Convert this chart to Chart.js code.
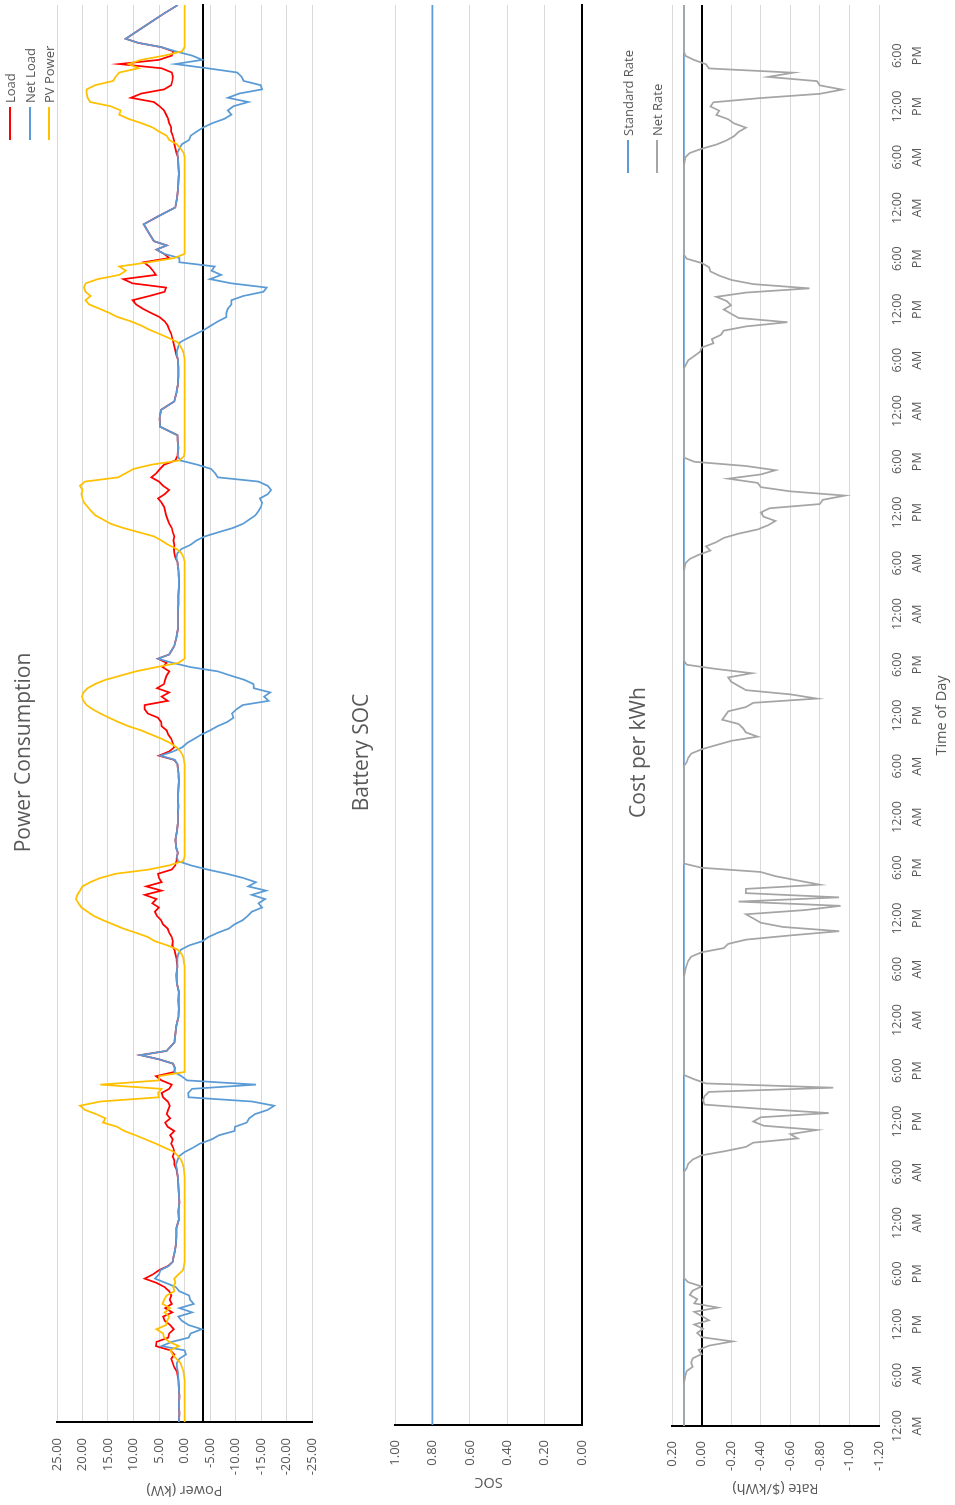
<!DOCTYPE html>
<html>
<head>
<meta charset="utf-8">
<script src="https://cdn.jsdelivr.net/npm/chart.js@4.4.1/dist/chart.umd.min.js"></script>
<style>
  body { margin: 0; background: #fff; }
  #frame {
    position: absolute; left: 0; top: 1505px; width: 1505px; height: 955px;
    transform-origin: 0 0; transform: rotate(-90deg);
    font-family: 'Open Sans', 'Noto Sans', sans-serif; color: #595959;
  }
  #frame canvas { position: absolute; left: 0; }
  .title { position: absolute; left: 0; width: 1505px; text-align: center; font-size: 21px; line-height: 26px; transform: translateY(-50%); }
  .lg { position: absolute; display: flex; align-items: center; font-size: 13px; line-height: 16px; transform: translateY(-50%); white-space: nowrap; }
  .lg i { display: inline-block; width: 33px; border-top: 2px solid; margin-right: 4px; }
</style>
</head>
<body>
<div id="frame">
  <canvas id="powerChart" width="1505" height="330" style="top:0"></canvas>
  <canvas id="socChart" width="1505" height="260" style="top:340px"></canvas>
  <canvas id="costChart" width="1505" height="345" style="top:610px"></canvas>

  <div class="title" style="top:22px">Power Consumption</div>
  <div class="lg" style="left:1365px;top:10px"><i style="border-color:#FF0000"></i>Load</div>
  <div class="lg" style="left:1365px;top:30px"><i style="border-color:#5B9BD5"></i>Net Load</div>
  <div class="lg" style="left:1365px;top:49px"><i style="border-color:#FFC000"></i>PV Power</div>

  <div class="title" style="top:360px">Battery SOC</div>

  <div class="title" style="top:637px">Cost per kWh</div>
  <div class="lg" style="left:1332px;top:628px"><i style="border-color:#5B9BD5"></i>Standard Rate</div>
  <div class="lg" style="left:1332px;top:657px"><i style="border-color:#A5A5A5"></i>Net Rate</div>
</div>

<script>
// sample hours within each day (finer during daylight), 7 days + closing point
const dayHours = [0, 1, 2, 3, 4, 5, 6, 6.5, 7, 7.5, 8, 8.5, 9, 9.5, 10, 10.5, 11, 11.5, 12, 12.5,
  13, 13.5, 14, 14.5, 15, 15.5, 16, 16.5, 17, 17.5, 18, 18.5, 19, 19.5, 20, 21, 22, 23];

// kW, one row per day
const loadKw = [
  1.1,1.0,1.1,1.0,1.1,1.2, 1.5,2.0,2.3,2.6,2.0,2.8,5.6,5.5,3.2,3.0,2.1,2.8,3.9,4.2,2.4,3.8,2.5,2.9,2.6,3.0,3.9,5.5,7.8,6.2,5.0,3.2, 2.3,2.2,2.0,1.7,1.6,1.6,
  1.1,1.2,1.0,1.1,1.2,1.3, 1.6,2.0,2.0,2.3,2.0,2.2,2.6,2.3,2.8,2.0,3.3,3.8,2.8,3.5,3.2,2.9,3.3,4.2,4.5,3.0,2.5,4.5,5.6,2.0,1.9,2.3, 5.0,8.6,3.5,2.0,1.8,1.6,
  1.2,1.1,1.2,1.1,1.5,1.6, 1.4,1.5,1.6,1.8,2.0,2.4,2.3,2.5,3.0,3.3,4.2,4.6,5.4,5.8,5.0,6.3,5.5,7.8,4.5,7.5,4.5,5.0,5.2,2.5,1.8,1.6, 1.5,1.3,1.6,1.8,1.5,1.3,
  1.3,1.2,1.3,1.2,1.1,1.2, 1.4,2.0,5.0,3.0,2.0,2.3,2.6,3.2,3.5,4.5,4.6,5.2,7.2,7.8,7.8,3.3,4.5,3.0,5.4,4.0,3.8,3.5,3.0,4.3,3.5,5.2, 3.0,2.5,2.0,1.6,1.3,1.3,
  1.3,1.2,1.2,1.1,1.1,1.2, 1.4,1.8,2.0,2.1,2.0,2.2,2.0,2.3,2.5,3.0,3.3,3.6,3.8,4.0,4.5,5.2,3.9,3.0,4.2,5.0,6.5,5.5,4.8,4.0,1.8,1.4, 1.3,1.2,1.3,1.4,4.8,4.9,
  4.6,2.0,1.6,1.3,1.2,1.2, 1.3,1.6,1.8,2.0,2.2,2.4,2.6,3.0,3.3,3.9,4.9,6.6,8.2,9.5,10.2,6.9,3.9,3.6,10.2,12.0,5.6,6.2,6.9,8.0,3.0,4.0, 5.5,3.5,6.0,7.0,8.0,5.0,
  1.8,1.5,1.3,1.2,1.1,1.2, 1.3,1.6,1.8,2.0,2.1,2.3,2.6,2.6,3.0,3.2,3.6,4.0,4.9,6.0,10.5,8.5,4.0,2.6,2.4,2.3,2.5,4.5,12.8,5.0,2.5,2.2, 4.5,9.0,11.5,9.0,6.5,4.0,
  1.3
];
const netLoadKw = [
  1.1,1.0,1.1,1.0,1.1,1.2, 1.3,1.5,1.5,1.0,-0.3,0.0,4.5,2.5,-0.8,-1.2,-3.4,-0.8,0.5,1.2,-1.5,1.0,-1.8,-1.1,-0.9,1.0,1.7,3.7,5.8,5.0,4.7,3.1, 2.3,2.2,2.0,1.7,1.6,1.6,
  1.1,1.2,1.0,1.1,1.2,1.3, 1.5,1.7,1.4,1.1,0.0,-1.6,-3.0,-5.3,-6.8,-9.8,-9.9,-12.2,-12.7,-13.8,-16.3,-17.6,-13.2,-0.8,-0.7,-1.5,-14.0,-0.5,0.6,2.0,1.9,2.3, 5.0,8.6,3.5,2.0,1.8,1.6,
  1.2,1.1,1.2,1.1,1.5,1.6, 1.4,1.4,1.4,1.2,0.7,-0.9,-3.5,-4.7,-6.5,-8.7,-9.8,-11.4,-12.4,-13.2,-15.2,-14.5,-15.8,-13.2,-16.0,-12.5,-14.0,-11.5,-8.3,-4.5,-1.2,1.3, 1.5,1.3,1.6,1.8,1.5,1.3,
  1.3,1.2,1.3,1.2,1.1,1.2, 1.4,1.9,4.7,2.2,0.4,-0.5,-1.9,-3.3,-5.0,-6.5,-8.4,-9.6,-9.3,-10.2,-11.4,-16.5,-15.6,-16.8,-13.6,-13.5,-11.7,-9.0,-6.5,-1.2,2.3,5.2, 3.0,2.5,2.0,1.6,1.3,1.3,
  1.3,1.2,1.2,1.1,1.1,1.2, 1.4,1.6,1.4,0.6,-1.2,-2.3,-4.0,-6.7,-9.5,-11.5,-12.7,-13.9,-14.5,-15.0,-15.2,-14.8,-16.3,-17.0,-16.3,-14.5,-6.5,-6.0,-5.2,-2.5,0.8,1.3, 1.3,1.2,1.3,1.4,4.8,4.9,
  4.6,2.0,1.6,1.3,1.2,1.2, 1.3,1.5,1.5,1.2,0.9,-0.6,-2.3,-3.9,-5.2,-6.6,-8.2,-8.2,-8.5,-9.2,-9.2,-11.5,-15.5,-16.1,-9.2,-5.0,-7.2,-5.3,-5.9,1.0,1.0,4.0, 5.5,3.5,6.0,7.0,8.0,5.0,
  1.8,1.5,1.3,1.2,1.1,1.2, 1.3,1.4,1.0,0.5,-0.9,-1.2,-2.4,-3.7,-5.5,-7.8,-9.2,-8.5,-9.6,-12.5,-8.5,-10.7,-15.2,-14.9,-11.6,-11.2,-10.3,-4.5,1.8,-3.5,-1.5,1.7, 4.5,9.0,11.5,9.0,6.5,4.0,
  1.3
];
const pvKw = [
  0,0,0,0,0,0, 0.2,0.5,0.8,1.6,2.3,2.8,1.1,3.0,4.0,4.2,5.5,3.6,3.4,3.0,3.9,2.8,4.3,4.0,3.5,2.0,2.2,1.8,2.0,1.2,0.3,0.1, 0,0,0,0,0,0,
  0,0,0,0,0,0, 0.1,0.3,0.6,1.2,2.0,3.8,5.6,7.6,9.6,11.8,13.2,16.0,15.5,17.3,19.5,20.5,16.5,5.0,5.2,4.5,16.5,5.0,5.0,0,0,0, 0,0,0,0,0,0,
  0,0,0,0,0,0, 0,0.1,0.2,0.6,1.3,3.3,5.8,7.2,9.5,12.0,14.0,16.0,17.8,19.0,20.2,20.8,21.3,21.0,20.5,20.0,18.5,16.5,13.5,7.0,3.0,0.3, 0,0,0,0,0,0,
  0,0,0,0,0,0, 0,0.1,0.3,0.8,1.6,2.8,4.5,6.5,8.5,11.0,13.0,14.8,16.5,18.0,19.2,19.8,20.1,19.8,19.0,17.5,15.5,12.5,9.5,5.5,1.2,0, 0,0,0,0,0,0,
  0,0,0,0,0,0, 0,0.2,0.6,1.5,3.2,4.5,6.0,9.0,12.0,14.5,16.0,17.5,18.3,19.0,19.7,20.0,20.2,20.0,20.5,19.5,13.0,11.5,10.0,6.5,1.0,0.1, 0,0,0,0,0,0,
  0,0,0,0,0,0, 0,0.1,0.3,0.8,1.3,3.0,4.9,6.9,8.5,10.5,13.1,14.8,16.7,18.7,19.4,18.4,19.4,19.7,19.4,17.0,12.8,11.5,12.8,7.0,2.0,0, 0,0,0,0,0,0,
  0,0,0,0,0,0, 0,0.2,0.8,1.5,3.0,3.5,5.0,6.3,8.5,11.0,12.8,12.5,14.5,18.5,19.0,19.2,19.2,17.5,14.0,13.5,12.8,9.0,11.0,8.5,4.0,0.5, 0,0,0,0,0,0,
  0
];

// $/kWh
const netRate = [
  .12,.12,.12,.12,.12,.12, .11,.10,.06,.07,.06,0,.02,-.05,-.21,0,.03,-.01,.05,-.05,0,.05,-.11,.05,.03,.08,.06,0,.09,.12,.12,.12, .12,.12,.12,.12,.12,.12,
  .12,.12,.12,.12,.12,.12, .12,.10,.09,.06,0,-.16,-.30,-.35,-.65,-.60,-.78,-.42,-.35,-.40,-.86,-.40,-.02,-.01,-.02,-.05,-.89,-.03,.05,.12,.12,.12, .12,.12,.12,.12,.12,.12,
  .12,.12,.12,.12,.12,.12, .11,.10,.09,.07,0,-.15,-.18,-.30,-.60,-.93,-.55,-.40,-.35,-.30,-.70,-.94,-.25,-.93,-.30,-.30,-.80,-.65,-.50,-.40,0,.12, .12,.12,.12,.12,.12,.12,
  .12,.12,.12,.12,.12,.12, .12,.10,.09,.07,0,-.10,-.20,-.38,-.30,-.28,-.25,-.14,-.16,-.18,-.30,-.35,-.78,-.60,-.30,-.25,-.20,-.18,-.34,-.10,.10,.12, .12,.12,.12,.12,.12,.12,
  .12,.12,.12,.12,.12,.12, .11,.08,.02,-.06,-.03,-.10,-.15,-.25,-.38,-.45,-.50,-.42,-.40,-.46,-.80,-.82,-.97,-.60,-.40,-.38,-.18,-.40,-.50,-.30,.05,.12, .12,.12,.12,.12,.12,.12,
  .12,.12,.12,.12,.12,.12, .09,.05,.01,0,-.08,-.07,-.13,-.15,-.30,-.58,-.25,-.20,-.15,-.20,-.17,-.10,-.30,-.73,-.35,-.20,-.12,-.06,-.05,0,.10,.12, .12,.12,.12,.12,.12,.12,
  .12,.12,.12,.12,.12,.12, .11,.08,0,-.10,-.17,-.22,-.25,-.30,-.22,-.18,-.10,-.12,-.06,-.08,-.40,-.80,-.95,-.80,-.78,-.45,-.62,-.05,-.03,.05,.11,.12, .12,.12,.12,.12,.12,.12,
  .12
];
const flatHours = [0, 168];
const standardRate = [0.12, 0.12];
const socValues = [0.8, 0.8];

const hours = [];
for (let d = 0; d < 7; d++) dayHours.forEach(h => hours.push(d * 24 + h));
hours.push(168);

const pts = (vals, xs) => vals.map((v, i) => ({ x: (xs || hours)[i], y: v }));

Chart.defaults.font.family = "'Open Sans', 'Noto Sans', sans-serif";
Chart.defaults.color = '#595959';

const GRID = '#D9D9D9';
const tickFont = { size: 13 };
const titleFont = { size: 14.5 };
const base = {
  responsive: false,
  animation: false,
  elements: { point: { radius: 0 }, line: { borderWidth: 1.75, tension: 0 } },
  plugins: { legend: { display: false }, tooltip: { enabled: false } }
};

// value axis: gap between labels and plot comes from an invisible tick mark
function valueGrid(gap, extra) {
  return Object.assign({ color: GRID, drawTicks: true, tickLength: gap, tickColor: 'rgba(0,0,0,0)' }, extra || {});
}

function timeLabel(v) {
  const h = v % 24;
  const clock = (h % 12 === 0 ? 12 : h % 12) + ':00';
  return [clock, h < 12 ? 'AM' : 'PM'];
}

// Power consumption
new Chart(document.getElementById('powerChart'), {
  type: 'line',
  data: {
    datasets: [
      { label: 'Load', data: pts(loadKw), borderColor: '#FF0000', order: 3 },
      { label: 'Net Load', data: pts(netLoadKw), borderColor: '#5B9BD5', order: 2 },
      { label: 'PV Power', data: pts(pvKw), borderColor: '#FFC000', order: 1 }
    ]
  },
  options: {
    ...base,
    layout: { padding: { top: 57, bottom: 18, left: 0, right: 5 } },
    scales: {
      x: {
        type: 'linear', min: 0, max: 168, position: { y: -3.6 },
        ticks: { display: false }, grid: { display: false, drawTicks: false },
        border: { display: true, color: '#000', width: 2 }
      },
      y: {
        min: -25, max: 25,
        ticks: { stepSize: 5, padding: 0, font: tickFont, callback: v => v.toFixed(2) },
        grid: valueGrid(16),
        border: { color: '#000', width: 2 },
        title: { display: true, text: 'Power (kW)', font: titleFont, padding: { top: 6, bottom: 0 } },
        afterFit: s => { s.width = 83; }
      }
    }
  }
});

// Battery SOC
new Chart(document.getElementById('socChart'), {
  type: 'line',
  data: {
    datasets: [
      { label: 'SOC', data: pts(socValues, flatHours), borderColor: '#5B9BD5' }
    ]
  },
  options: {
    ...base,
    layout: { padding: { top: 55, bottom: 18, left: 0, right: 5 } },
    scales: {
      x: {
        type: 'linear', min: 0, max: 168,
        ticks: { display: false }, grid: { display: false, drawTicks: false },
        border: { display: true, color: '#000', width: 2 },
        afterFit: s => { s.height = 0; }
      },
      y: {
        min: 0, max: 1,
        ticks: { stepSize: 0.2, padding: 0, font: tickFont, callback: v => v.toFixed(2) },
        grid: valueGrid(15),
        border: { color: '#000', width: 2 },
        title: { display: true, text: 'SOC', font: titleFont, padding: { top: 14, bottom: 0 } },
        afterFit: s => { s.width = 80; }
      }
    }
  }
});

// Cost per kWh
const isZero = v => Math.abs(v) < 1e-9;
new Chart(document.getElementById('costChart'), {
  type: 'line',
  data: {
    datasets: [
      { label: 'Standard Rate', data: pts(standardRate, flatHours), borderColor: '#5B9BD5', order: 2 },
      { label: 'Net Rate', data: pts(netRate), borderColor: '#A5A5A5', order: 1 }
    ]
  },
  options: {
    ...base,
    layout: { padding: { top: 62, bottom: 0, left: 0, right: 5 } },
    scales: {
      x: {
        type: 'linear', min: 0, max: 168,
        afterBuildTicks: s => { s.ticks = s.ticks.filter(t => t.value % 6 === 0 && t.value < 168); },
        ticks: {
          stepSize: 6, autoSkip: false, maxRotation: 0, padding: 8,
          font: { size: 12.5, lineHeight: 1.6 }, callback: v => timeLabel(v)
        },
        grid: { display: false, drawTicks: false },
        border: { display: false },
        title: { display: true, text: 'Time of Day', font: titleFont, padding: { top: 4, bottom: 4 } },
        afterFit: s => { s.height = 76; }
      },
      y: {
        min: -1.2, max: 0.2,
        ticks: { stepSize: 0.2, padding: 0, font: tickFont, callback: v => v.toFixed(2) },
        grid: valueGrid(15, {
          color: c => isZero(c.tick.value) ? '#000' : GRID,
          lineWidth: c => isZero(c.tick.value) ? 2 : 1
        }),
        border: { color: '#000', width: 2 },
        title: { display: true, text: 'Rate ($/kWh)', font: titleFont, padding: { top: 8, bottom: 0 } },
        afterFit: s => { s.width = 79; }
      }
    }
  }
});
</script>
</body>
</html>
